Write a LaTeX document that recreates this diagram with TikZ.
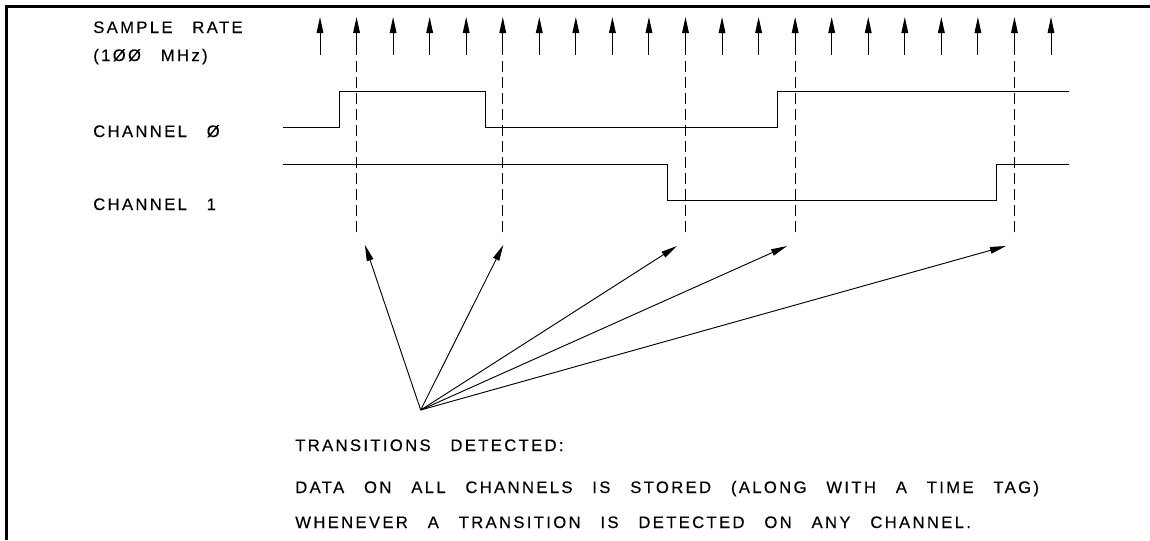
\documentclass[tikz,border=0pt]{standalone}
\usepackage{fontspec}
\newfontfamily\cadfont{Liberation Sans}[LetterSpace=14,WordSpace=2.85,FakeBold=0.3]
\usetikzlibrary{arrows.meta}
\begin{document}
\begin{tikzpicture}[x=0.75pt,y=-0.75pt,
  frameline/.style={line width=2.5pt},
  wave/.style={line width=0.75pt},
  tick/.style={line width=0.75pt,-{Triangle[length=12pt,width=5pt]}},
  guide/.style={line width=0.75pt,dash pattern=on 8pt off 4pt},
  pointer/.style={line width=0.7pt,-{Triangle[length=12pt,width=5pt]}},
  lbl/.style={font=\cadfont\fontsize{12.5}{15}\selectfont,anchor=base west,inner sep=0pt}
]
\useasboundingbox (0,0) rectangle (1150,540);

% frame (left and top)
\coordinate (fb) at (6.5,540);
\coordinate (fc) at (6.5,6.8);
\coordinate (fr) at (1150,6.8);
\draw[frameline] (fb) -- (fc) -- (fr);

% labels
\node[lbl] (sr)  at (93,33)  {SAMPLE RATE};
\node[lbl] (mhz) at (93,61)  {(1ØØ MHz)};
\node[lbl] (c0)  at (93,137) {CHANNEL Ø};
\node[lbl] (c1)  at (93,210) {CHANNEL 1};

% sample clock arrows
\foreach \k in {0,...,20}{
  \pgfmathsetmacro\xx{320+36.55*\k}
  \coordinate (sb\k) at (\xx,55);
  \coordinate (st\k) at (\xx,17);
  \draw[tick] (sb\k) -- (st\k);
}

% channel 0
\coordinate (a0) at (283,127.7);
\coordinate (a1) at (339,127.7);
\coordinate (a2) at (339,91);
\coordinate (a3) at (485,91);
\coordinate (a4) at (485,127.7);
\coordinate (a5) at (777.3,127.7);
\coordinate (a6) at (777.3,91);
\coordinate (a7) at (1069,91);
\draw[wave] (a0) -- (a1) -- (a2) -- (a3) -- (a4) -- (a5) -- (a6) -- (a7);

% channel 1
\coordinate (b0) at (283,164);
\coordinate (b1) at (667,164);
\coordinate (b2) at (667,200.3);
\coordinate (b3) at (996,200.3);
\coordinate (b4) at (996,164);
\coordinate (b5) at (1069,164);
\draw[wave] (b0) -- (b1) -- (b2) -- (b3) -- (b4) -- (b5);

% dashed guides at detected transitions
\foreach \k/\n in {1/1,5/2,10/3,13/4,19/5}{
  \pgfmathsetmacro\xx{320+36.55*\k}
  \coordinate (gt\n) at (\xx,61);
  \coordinate (gb\n) at (\xx,237);
  \draw[guide] (gt\n) -- (gb\n);
}

% pointers
\coordinate (src) at (420.7,410);
\coordinate (pt1) at (365,245);
\coordinate (pt2) at (503.3,245);
\coordinate (pt3) at (677,246);
\coordinate (pt4) at (787,246);
\coordinate (pt5) at (1006,246);
\foreach \n in {1,...,5}{
  \draw[pointer] (src) -- (pt\n);
}

% bottom text
\node[lbl] (td) at (295,451) {TRANSITIONS DETECTED:};
\node[lbl] (l1) at (295,493) {DATA ON ALL CHANNELS IS STORED (ALONG WITH A TIME TAG)};
\node[lbl] (l2) at (295,528) {WHENEVER A TRANSITION IS DETECTED ON ANY CHANNEL.};
\end{tikzpicture}
\end{document}
